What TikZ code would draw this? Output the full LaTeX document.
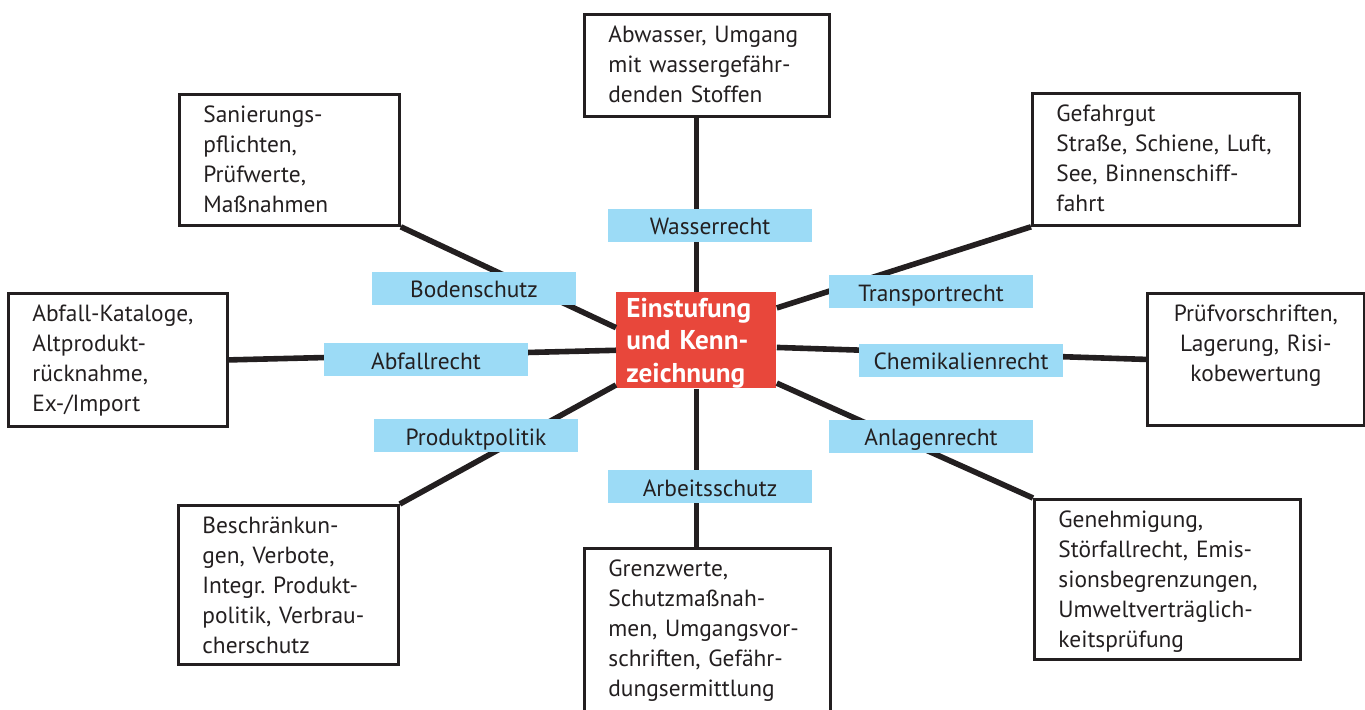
\documentclass[tikz,border=0pt]{standalone}
\usepackage{fontspec}
\setmainfont{PT Sans}
\usepackage{xcolor}
\usepackage{tikz}
\usetikzlibrary{calc}
\definecolor{kennred}{HTML}{E8473B}
\definecolor{rechtblue}{HTML}{9CDBF6}
\definecolor{inkgray}{HTML}{231F20}
\hyphenpenalty=10000
\exhyphenpenalty=10000
\frenchspacing

\begin{document}
\begin{tikzpicture}[x=0.5pt, y=-0.5pt,
		every node/.style={font=\fontsize{11.7}{15}\selectfont, text=inkgray},
		feld/.style={draw=inkgray, line width=1.4pt, anchor=north west, align=left, inner xsep=12pt, inner ysep=5pt, text height=9pt},
		recht/.style={fill=rechtblue, minimum width=102pt, minimum height=16.5pt, inner sep=0pt, text height=9.5pt, text depth=0pt},
		ast/.style={draw=inkgray, line width=2.8pt}]
		\useasboundingbox (0,0) rectangle (1365,709);
		% Center
		\node[fill=kennred, text=white, font=\fontsize{13.6}{16.25}\selectfont\bfseries, anchor=north west, align=left, text width=70pt, inner xsep=5pt, inner ysep=0pt, text height=12.5pt, text depth=35.5pt] (kern) at (616,292) {Einstufung\\und Kenn-\\zeichnung};
		% Outer boxes
		\node[feld, text width=98.5pt, text depth=32pt] (abwasser) at (583,13) {Abwasser, Umgang\\mit wassergefähr-\\denden Stoffen};
		\node[feld, text width=86pt, text depth=46.5pt] (sanierung) at (178,93) {Sanierungs-\\pflichten,\\Prüfwerte,\\Maßnahmen};
		\node[feld, text width=109.5pt, text depth=47pt] (gefahrgut) at (1031,92) {Gefahrgut\\Straße, Schiene, Luft,\\See, Binnenschiff-\\fahrt};
		\node[feld, text width=85.5pt, text depth=47.5pt] (abfall) at (7,292) {Abfall-Kataloge,\\Altprodukt-\\rücknahme,\\Ex-/Import};
		\node[feld, align=center, text width=84.5pt, text depth=47pt] (pruef) at (1146,292) {Prüfvorschriften,\\Lagerung, Risi-\\kobewertung};
		\node[feld, text width=86pt, text depth=60.5pt] (beschr) at (177,504) {Beschränkun-\\gen, Verbote,\\Integr. Produkt-\\politik, Verbrau-\\cherschutz};
		\node[feld, text width=99pt, text depth=75pt] (grenz) at (583,547) {Grenzwerte,\\Schutzmaßnah-\\men, Umgangsvor-\\schriften, Gefähr-\\dungsermittlung};
		\node[feld, text width=109pt, text depth=61pt] (genehm) at (1033,498) {Genehmigung,\\Störfallrecht, Emis-\\sionsbegrenzungen,\\Umweltverträglich-\\keitsprüfung};
		% Spokes
		\draw[ast] (kern.north) -- (kern.north |- abwasser.south);
		\draw[ast] (kern.171) -- (sanierung.south east);
		\draw[ast] (kern.22) -- (gefahrgut.south west);
		\draw[ast] (kern.187) -- (abfall.east);
		\draw[ast] (kern.355) -- (pruef.west);
		\draw[ast] (kern.209) -- (beschr.north east);
		\draw[ast] (kern.332) -- (genehm.north west);
		\draw[ast] (kern.south) -- (kern.south |- grenz.north);
		% Labels on the spokes
		\node[recht] (wasser) at (710,225) {Wasserrecht};
		\node[recht] (boden) at (474,288) {Bodenschutz};
		\node[recht] (transport) at (931,291.5) {Transportrecht};
		\node[recht] (abfallr) at (426,359.5) {Abfallrecht};
		\node[recht] (chemie) at (961,360) {Chemikalienrecht};
		\node[recht] (produkt) at (476,435.5) {Produktpolitik};
		\node[recht] (anlagen) at (931,436) {Anlagenrecht};
		\node[recht] (arbeit) at (710,486.5) {Arbeitsschutz};
	\end{tikzpicture}
\end{document}
